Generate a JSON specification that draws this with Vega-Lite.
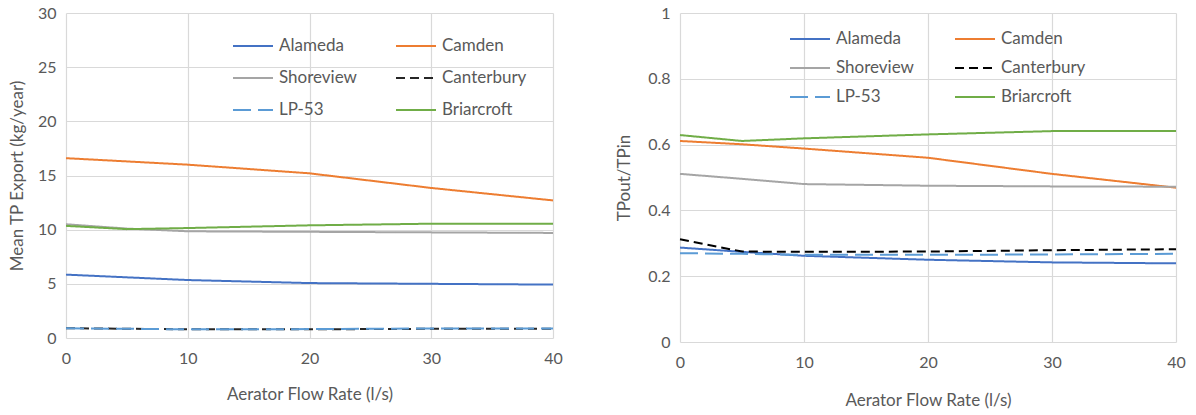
{
  "$schema": "https://vega.github.io/schema/vega-lite/v6.json",
  "background": "white",
  "padding": {"left": 8, "top": 5, "right": 4, "bottom": 5},
  "config": {
    "font": "Lato",
    "view": {"stroke": null},
    "axis": {
      "labelFont": "Lato",
      "labelFontSize": 16,
      "labelColor": "#595959",
      "titleFont": "Lato",
      "titleFontSize": 17,
      "titleFontWeight": "normal",
      "titleColor": "#595959",
      "domain": false,
      "ticks": false,
      "labelFlush": false,
      "gridColor": "#D9D9D9",
      "gridWidth": 1.2
    },
    "legend": {
      "labelFont": "Lato",
      "labelFontSize": 17,
      "labelColor": "#595959",
      "symbolType": "stroke",
      "symbolSize": 1600,
      "symbolStrokeWidth": 2,
      "labelOffset": 5,
      "columns": 2,
      "direction": "horizontal",
      "title": null,
      "orient": "none"
    },
    "line": {"strokeWidth": 2}
  },
  "datasets": {
    "export": [
      {"site": "Alameda", "flow": 0, "value": 5.85},
      {"site": "Alameda", "flow": 5, "value": 5.6},
      {"site": "Alameda", "flow": 10, "value": 5.35},
      {"site": "Alameda", "flow": 20, "value": 5.07},
      {"site": "Alameda", "flow": 30, "value": 5.0},
      {"site": "Alameda", "flow": 40, "value": 4.93},
      {"site": "Camden", "flow": 0, "value": 16.6},
      {"site": "Camden", "flow": 5, "value": 16.3},
      {"site": "Camden", "flow": 10, "value": 16.0},
      {"site": "Camden", "flow": 20, "value": 15.2},
      {"site": "Camden", "flow": 30, "value": 13.85},
      {"site": "Camden", "flow": 40, "value": 12.7},
      {"site": "Shoreview", "flow": 0, "value": 10.5},
      {"site": "Shoreview", "flow": 5, "value": 10.1},
      {"site": "Shoreview", "flow": 10, "value": 9.85},
      {"site": "Shoreview", "flow": 20, "value": 9.8},
      {"site": "Shoreview", "flow": 30, "value": 9.75},
      {"site": "Shoreview", "flow": 40, "value": 9.7},
      {"site": "Canterbury", "flow": 0, "value": 0.9},
      {"site": "Canterbury", "flow": 5, "value": 0.85},
      {"site": "Canterbury", "flow": 10, "value": 0.8},
      {"site": "Canterbury", "flow": 20, "value": 0.8},
      {"site": "Canterbury", "flow": 30, "value": 0.85},
      {"site": "Canterbury", "flow": 40, "value": 0.85},
      {"site": "LP-53", "flow": 0, "value": 0.9},
      {"site": "LP-53", "flow": 5, "value": 0.85},
      {"site": "LP-53", "flow": 10, "value": 0.8},
      {"site": "LP-53", "flow": 20, "value": 0.82},
      {"site": "LP-53", "flow": 30, "value": 0.88},
      {"site": "LP-53", "flow": 40, "value": 0.88},
      {"site": "Briarcroft", "flow": 0, "value": 10.35},
      {"site": "Briarcroft", "flow": 5, "value": 10.05},
      {"site": "Briarcroft", "flow": 10, "value": 10.15},
      {"site": "Briarcroft", "flow": 20, "value": 10.4},
      {"site": "Briarcroft", "flow": 30, "value": 10.55},
      {"site": "Briarcroft", "flow": 40, "value": 10.55}
    ],
    "ratio": [
      {"site": "Alameda", "flow": 0, "value": 0.287},
      {"site": "Alameda", "flow": 5, "value": 0.274},
      {"site": "Alameda", "flow": 10, "value": 0.262},
      {"site": "Alameda", "flow": 20, "value": 0.25},
      {"site": "Alameda", "flow": 30, "value": 0.242},
      {"site": "Alameda", "flow": 40, "value": 0.239},
      {"site": "Camden", "flow": 0, "value": 0.611},
      {"site": "Camden", "flow": 5, "value": 0.601},
      {"site": "Camden", "flow": 10, "value": 0.588},
      {"site": "Camden", "flow": 20, "value": 0.56},
      {"site": "Camden", "flow": 30, "value": 0.511},
      {"site": "Camden", "flow": 40, "value": 0.469},
      {"site": "Shoreview", "flow": 0, "value": 0.511},
      {"site": "Shoreview", "flow": 5, "value": 0.496},
      {"site": "Shoreview", "flow": 10, "value": 0.48},
      {"site": "Shoreview", "flow": 20, "value": 0.475},
      {"site": "Shoreview", "flow": 30, "value": 0.473},
      {"site": "Shoreview", "flow": 40, "value": 0.472},
      {"site": "Canterbury", "flow": 0, "value": 0.312},
      {"site": "Canterbury", "flow": 5, "value": 0.275},
      {"site": "Canterbury", "flow": 10, "value": 0.274},
      {"site": "Canterbury", "flow": 20, "value": 0.275},
      {"site": "Canterbury", "flow": 30, "value": 0.279},
      {"site": "Canterbury", "flow": 40, "value": 0.282},
      {"site": "LP-53", "flow": 0, "value": 0.27},
      {"site": "LP-53", "flow": 5, "value": 0.268},
      {"site": "LP-53", "flow": 10, "value": 0.265},
      {"site": "LP-53", "flow": 20, "value": 0.265},
      {"site": "LP-53", "flow": 30, "value": 0.266},
      {"site": "LP-53", "flow": 40, "value": 0.268},
      {"site": "Briarcroft", "flow": 0, "value": 0.629},
      {"site": "Briarcroft", "flow": 5, "value": 0.611},
      {"site": "Briarcroft", "flow": 10, "value": 0.619},
      {"site": "Briarcroft", "flow": 20, "value": 0.631},
      {"site": "Briarcroft", "flow": 30, "value": 0.641},
      {"site": "Briarcroft", "flow": 40, "value": 0.641}
    ]
  },
  "spacing": 127,
  "bounds": "flush",
  "resolve": {"scale": {"y": "independent", "color": "independent", "strokeDash": "independent"}, "legend": {"color": "independent", "strokeDash": "independent"}},
  "hconcat": [
    {
      "width": 487,
      "height": 325,
      "data": {"name": "export"},
      "mark": {"type": "line"},
      "encoding": {
        "x": {"field": "flow", "type": "quantitative", "title": "Aerator Flow Rate (l/s)",
              "scale": {"domain": [0, 40], "nice": false},
              "axis": {"values": [0, 10, 20, 30, 40], "labelPadding": 12, "titlePadding": 20}},
        "y": {"field": "value", "type": "quantitative", "title": "Mean TP Export (kg/year)",
              "scale": {"domain": [0, 30], "nice": false},
              "axis": {"values": [0, 5, 10, 15, 20, 25, 30], "labelPadding": 10, "titlePadding": 11}},
        "color": {"field": "site", "type": "nominal",
                  "scale": {"domain": ["Alameda", "Camden", "Shoreview", "Canterbury", "LP-53", "Briarcroft"],
                            "range": ["#4472C4", "#ED7D31", "#A5A5A5", "#262626", "#5B9BD5", "#70AD47"]},
                  "legend": {"legendX": 166, "legendY": 12, "rowPadding": 3, "columnPadding": 35}},
        "strokeDash": {"field": "site", "type": "nominal",
                       "scale": {"domain": ["Alameda", "Camden", "Shoreview", "Canterbury", "LP-53", "Briarcroft"],
                                 "range": [[1, 0], [1, 0], [1, 0], [9, 5], [18, 7], [1, 0]]},
                       "legend": {"legendX": 166, "legendY": 12, "rowPadding": 3, "columnPadding": 35}}
      }
    },
    {
      "width": 496,
      "height": 329,
      "data": {"name": "ratio"},
      "mark": {"type": "line"},
      "encoding": {
        "x": {"field": "flow", "type": "quantitative", "title": "Aerator Flow Rate (l/s)",
              "scale": {"domain": [0, 40], "nice": false},
              "axis": {"values": [0, 10, 20, 30, 40], "labelPadding": 12, "titlePadding": 22}},
        "y": {"field": "value", "type": "quantitative", "title": "TPout/TPin",
              "scale": {"domain": [0, 1], "nice": false},
              "axis": {"values": [0, 0.2, 0.4, 0.6, 0.8, 1], "format": "~g", "labelPadding": 10, "titlePadding": 14}},
        "color": {"field": "site", "type": "nominal",
                  "scale": {"domain": ["Alameda", "Camden", "Shoreview", "Canterbury", "LP-53", "Briarcroft"],
                            "range": ["#4472C4", "#ED7D31", "#A5A5A5", "#000000", "#5B9BD5", "#70AD47"]},
                  "legend": {"legendX": 109, "legendY": 5, "rowPadding": -4, "columnPadding": 37}},
        "strokeDash": {"field": "site", "type": "nominal",
                       "scale": {"domain": ["Alameda", "Camden", "Shoreview", "Canterbury", "LP-53", "Briarcroft"],
                                 "range": [[1, 0], [1, 0], [1, 0], [9, 5], [18, 7], [1, 0]]},
                       "legend": {"legendX": 109, "legendY": 5, "rowPadding": -4, "columnPadding": 37}}
      }
    }
  ]
}
